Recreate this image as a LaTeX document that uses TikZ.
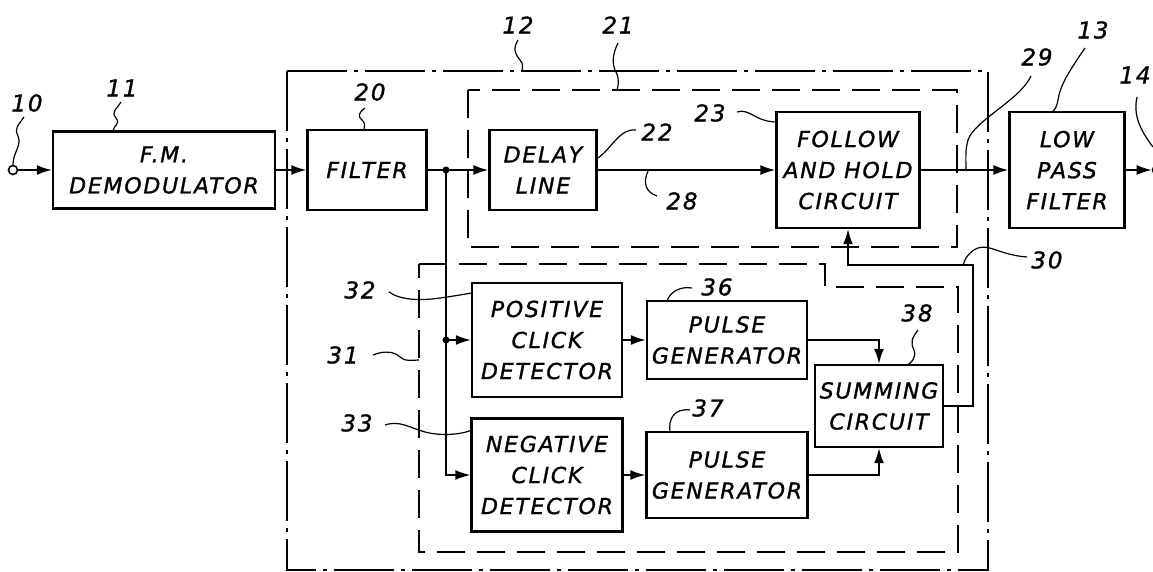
\documentclass[tikz,border=0pt]{standalone}
\usepackage{fontspec}
\newfontfamily\hand[LetterSpace=8, FakeBold=1.2]{DejaVu Sans}
\usetikzlibrary{arrows.meta}

\begin{document}
\begin{tikzpicture}[x=1pt, y=-1pt, >={Latex[length=15pt,width=10pt]},
  blk/.style={draw, line width=2.4pt, align=center, inner sep=0pt,
    font=\hand\itshape\fontsize{22}{31}\selectfont},
  num/.style={font=\hand\itshape\fontsize{23}{23}\selectfont},
  wire/.style={line width=1.6pt},
  ldr/.style={line width=1.2pt},
  grp/.style={line width=1.8pt, dash pattern=on 28pt off 12pt},
  jdot/.style={circle, fill, inner sep=0pt, minimum size=7pt},
  term/.style={circle, draw, line width=1.6pt, inner sep=0pt, minimum size=9pt}]
  \useasboundingbox (0,0) rectangle (1153,572);

  % groups
  \draw [line width=1.8pt, dash pattern=on 60pt off 7pt on 4pt off 7pt] (287,71) rectangle (988,570);
  \draw [grp] (468,90) rectangle (957,247);
  \draw [grp] (419,264) -- (825,264) -- (825,287) -- (958,287) -- (958,552) -- (419,552) -- cycle;

  % blocks
  \node [blk, minimum width=222, minimum height=77] (fmd) at (164,170) {F.M.\\DEMODULATOR};
  \node [blk, minimum width=119, minimum height=80] (filt) at (367,170) {FILTER};
  \node [blk, minimum width=107, minimum height=80] (dly) at (543,170) {DELAY\\LINE};
  \node [blk, minimum width=143, minimum height=116] (fah) at (848,170) {FOLLOW\\AND HOLD\\CIRCUIT};
  \node [blk, minimum width=115, minimum height=116] (lpf) at (1067,170) {LOW\\PASS\\FILTER};
  \node [blk, minimum width=150, minimum height=114] (pcd) at (547,340) {POSITIVE\\CLICK\\DETECTOR};
  \node [blk, minimum width=151, minimum height=113] (ncd) at (547,475) {NEGATIVE\\CLICK\\DETECTOR};
  \node [blk, minimum width=160, minimum height=78] (pg1) at (727,340) {PULSE\\GENERATOR};
  \node [blk, minimum width=161, minimum height=86] (pg2) at (727,475) {PULSE\\GENERATOR};
  \node [blk, minimum width=128, minimum height=82] (sum) at (879,406) {SUMMING\\CIRCUIT};

  \node [term] (in) at (13,170) {};
  \node [term] (out) at (1157,170) {};
  \node [jdot] (j1) at (446,170) {};
  \node [jdot] (j2) at (446,340) {};
  \coordinate (fb) at (973,265);

  % signal lines
  \draw [wire, ->] (in) -- (fmd);
  \draw [wire, ->] (fmd) -- (filt);
  \draw [wire, ->] (filt) -- (dly);
  \draw [wire, ->] (dly) -- (fah);
  \draw [wire, ->] (fah) -- (lpf);
  \draw [wire, ->] (lpf) -- (out);
  \draw [wire, ->] (j1.center) |- (ncd.west);
  \draw [wire, ->] (j2.center) -- (pcd.west);
  \draw [wire, ->] (pcd) -- (pg1);
  \draw [wire, ->] (ncd) -- (pg2);
  \draw [wire, ->] (pg1.east) -| (sum.north);
  \draw [wire, ->] (pg2.east) -| (sum.south);
  \draw [wire, ->] (sum.east) -- (sum.east -| fb) -- (fb) -- (fb -| fah.south) -- (fah.south);

  % reference numerals
  \node [num] (n10) at (27,103) {10};
  \node [num] (n11) at (122,88) {11};
  \node [num] (n12) at (518,25) {12};
  \node [num] (n21) at (618,25) {21};
  \node [num] (n20) at (370,92) {20};
  \node [num] (n22) at (657,132) {22};
  \node [num] (n28) at (682,201) {28};
  \node [num] (n23) at (710,113) {23};
  \node [num] (n29) at (1037,57) {29};
  \node [num] (n13) at (1093,30) {13};
  \node [num] (n14) at (1135,75) {14};
  \node [num] (n30) at (1047,260) {30};
  \node [num] (n31) at (343,355) {31};
  \node [num] (n32) at (360,290) {32};
  \node [num] (n33) at (357,423) {33};
  \node [num] (n36) at (717,287) {36};
  \node [num] (n37) at (708,408) {37};
  \node [num] (n38) at (917,313) {38};

  % leaders
  \draw [ldr] (24,117) .. controls (18,126) and (14,128) .. (18,136) .. controls (22,146) and (13,152) .. (in.north);
  \draw [ldr] (121,102) .. controls (116,110) and (111,112) .. (116,118) .. controls (121,124) and (113,126) .. (113,131);
  \draw [ldr] (518,40) .. controls (512,50) and (516,55) .. (520,60) .. controls (524,64) and (522,68) .. (522,71);
  \draw [ldr] (618,43) .. controls (612,55) and (612,65) .. (616,72) .. controls (620,80) and (618,86) .. (617,90);
  \draw [ldr] (365,108) .. controls (358,113) and (358,117) .. (362,120) .. controls (366,123) and (364,127) .. (364,130);
  \draw [ldr] (636,130) .. controls (620,128) and (612,148) .. (598,158);
  \draw [ldr] (648,171) .. controls (643,182) and (645,192) .. (657,196);
  \draw [ldr] (737,112) .. controls (750,108) and (755,122) .. (777,122);
  \draw [ldr] (1031,76) .. controls (1020,100) and (975,120) .. (968,140) .. controls (965,150) and (966,160) .. (966,170);
  \draw [ldr] (1085,48) .. controls (1070,70) and (1060,85) .. (1058,100) .. controls (1057,106) and (1055,110) .. (1052,112);
  \draw [ldr] (1137,97) .. controls (1133,115) and (1140,130) .. (1153,147);
  \draw [ldr] (1027,257) .. controls (1000,255) and (990,244) .. (978,248) .. controls (970,251) and (965,258) .. (963,265);
  \draw [ldr] (373,355) .. controls (385,350) and (395,352) .. (400,357) .. controls (405,362) and (412,360) .. (419,360);
  \draw [ldr] (389,292) .. controls (400,300) and (420,301) .. (440,298) .. controls (455,296) and (465,294) .. (472,293);
  \draw [ldr] (385,425) .. controls (400,420) and (410,428) .. (425,432) .. controls (440,436) and (460,435) .. (472,430);
  \draw [ldr] (692,288) .. controls (680,286) and (670,292) .. (667,301);
  \draw [ldr] (690,410) .. controls (675,408) and (668,418) .. (670,432);
  \draw [ldr] (918,330) .. controls (912,338) and (910,342) .. (914,350) .. controls (917,358) and (910,364) .. (907,365);
\end{tikzpicture}
\end{document}
